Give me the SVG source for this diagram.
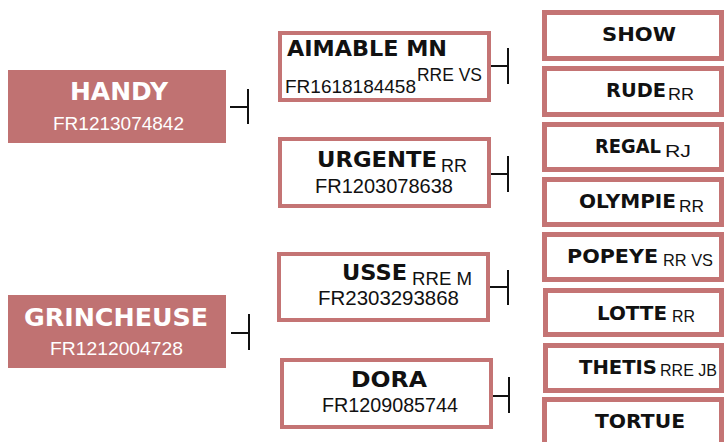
<svg xmlns="http://www.w3.org/2000/svg" width="724" height="442" viewBox="0 0 724 442">
<style>
.lbox{fill:#c07272;}
.mbox{fill:#fff;stroke:#c47474;stroke-width:4;}
.rbox{fill:#fff;stroke:#c47474;stroke-width:5;}
.bw{font-family:"DejaVu Sans",sans-serif;font-weight:bold;fill:#fff;}
.rw{font-family:"Liberation Sans",Arial,sans-serif;fill:#fff;}
.bk{font-family:"DejaVu Sans",sans-serif;font-weight:bold;fill:#111;}
.rk{font-family:"Liberation Sans",Arial,sans-serif;fill:#111;}
.conn{fill:none;stroke:#111;stroke-width:2;}
</style>
<rect width="724" height="442" fill="#fff"/>
<g id="connectors">
<path class="conn" d="M230,107 H248 M248,89 V124"/>
<path class="conn" d="M231,333 H249 M249,314 V350"/>
<path class="conn" d="M491,66 H508 M508,48 V84"/>
<path class="conn" d="M491,174 H508 M508,156 V192"/>
<path class="conn" d="M490,287 H508 M508,270 V305"/>
<path class="conn" d="M493,396 H509 M509,377 V413"/>
</g>
<g id="handy">
<rect class="lbox" x="8" y="70" width="218" height="73"/>
<text class="bw" x="119" y="100" font-size="25.5" text-anchor="middle" textLength="98" lengthAdjust="spacingAndGlyphs">HANDY</text>
<text class="rw" x="118.5" y="130" font-size="19" text-anchor="middle" textLength="131" lengthAdjust="spacingAndGlyphs">FR1213074842</text>
</g>
<g id="grincheuse">
<rect class="lbox" x="8" y="295" width="218" height="73"/>
<text class="bw" x="116" y="326" font-size="25" text-anchor="middle" textLength="184" lengthAdjust="spacingAndGlyphs">GRINCHEUSE</text>
<text class="rw" x="116.5" y="355" font-size="19" text-anchor="middle" textLength="133" lengthAdjust="spacingAndGlyphs">FR1212004728</text>
</g>
<g id="aimable">
<rect class="mbox" x="280" y="33" width="209" height="67"/>
<text class="bk" x="287" y="56" font-size="21.5" textLength="160" lengthAdjust="spacingAndGlyphs">AIMABLE MN</text>
<text class="rk" x="285" y="93" font-size="19" textLength="131" lengthAdjust="spacingAndGlyphs">FR1618184458</text>
<text class="rk" x="417" y="81" font-size="18" textLength="65" lengthAdjust="spacingAndGlyphs">RRE VS</text>
</g>
<g id="urgente">
<rect class="mbox" x="280" y="139" width="209" height="67"/>
<text class="bk" x="317" y="167" font-size="21.5" textLength="120" lengthAdjust="spacingAndGlyphs">URGENTE</text>
<text class="rk" x="441" y="172" font-size="18" textLength="26" lengthAdjust="spacingAndGlyphs">RR</text>
<text class="rk" x="315" y="193" font-size="19.5" textLength="138" lengthAdjust="spacingAndGlyphs">FR1203078638</text>
</g>
<g id="usse">
<rect class="mbox" x="279" y="254" width="209" height="66"/>
<text class="bk" x="342" y="280" font-size="21.5" textLength="65" lengthAdjust="spacingAndGlyphs">USSE</text>
<text class="rk" x="412" y="285" font-size="17.5" textLength="60" lengthAdjust="spacingAndGlyphs">RRE M</text>
<text class="rk" x="318" y="305" font-size="19.5" textLength="141" lengthAdjust="spacingAndGlyphs">FR2303293868</text>
</g>
<g id="dora">
<rect class="mbox" x="282" y="360" width="209" height="67"/>
<text class="bk" x="351" y="387" font-size="22" textLength="76" lengthAdjust="spacingAndGlyphs">DORA</text>
<text class="rk" x="322" y="412" font-size="19.5" textLength="136" lengthAdjust="spacingAndGlyphs">FR1209085744</text>
</g>
<g id="show">
<rect class="rbox" x="544.5" y="12.5" width="177" height="46"/>
<text class="bk" x="602" y="41" font-size="19.5" textLength="74" lengthAdjust="spacingAndGlyphs">SHOW</text>
</g>
<g id="rude">
<rect class="rbox" x="544.5" y="68.5" width="177" height="46"/>
<text class="bk" x="606" y="97" font-size="19.5" textLength="60" lengthAdjust="spacingAndGlyphs">RUDE</text>
<text class="rk" x="668" y="100" font-size="16.5" textLength="26" lengthAdjust="spacingAndGlyphs">RR</text>
</g>
<g id="regal">
<rect class="rbox" x="544.5" y="124.5" width="177" height="45"/>
<text class="bk" x="595" y="153" font-size="19" textLength="66" lengthAdjust="spacingAndGlyphs">REGAL</text>
<text class="rk" x="665" y="157" font-size="16.5" textLength="26" lengthAdjust="spacingAndGlyphs">RJ</text>
</g>
<g id="olympie">
<rect class="rbox" x="544.5" y="179.5" width="177" height="45"/>
<text class="bk" x="579" y="208" font-size="19.5" textLength="97" lengthAdjust="spacingAndGlyphs">OLYMPIE</text>
<text class="rk" x="679" y="212" font-size="16.5" textLength="25" lengthAdjust="spacingAndGlyphs">RR</text>
</g>
<g id="popeye">
<rect class="rbox" x="544.5" y="234.5" width="177" height="45"/>
<text class="bk" x="567" y="263" font-size="20" textLength="91" lengthAdjust="spacingAndGlyphs">POPEYE</text>
<text class="rk" x="663" y="266" font-size="16.5" textLength="50" lengthAdjust="spacingAndGlyphs">RR VS</text>
</g>
<g id="lotte">
<rect class="rbox" x="545.5" y="290.5" width="176" height="44"/>
<text class="bk" x="597" y="320" font-size="19.5" textLength="70" lengthAdjust="spacingAndGlyphs">LOTTE</text>
<text class="rk" x="672" y="322" font-size="16.5" textLength="23" lengthAdjust="spacingAndGlyphs">RR</text>
</g>
<g id="thetis">
<rect class="rbox" x="545.5" y="345.5" width="176" height="45"/>
<text class="bk" x="579" y="374" font-size="19.5" textLength="78" lengthAdjust="spacingAndGlyphs">THETIS</text>
<text class="rk" x="660" y="376" font-size="16.5" textLength="57" lengthAdjust="spacingAndGlyphs">RRE JB</text>
</g>
<g id="tortue">
<rect class="rbox" x="544.5" y="399.5" width="177" height="46"/>
<text class="bk" x="595" y="428" font-size="20" textLength="90" lengthAdjust="spacingAndGlyphs">TORTUE</text>
</g>
</svg>
